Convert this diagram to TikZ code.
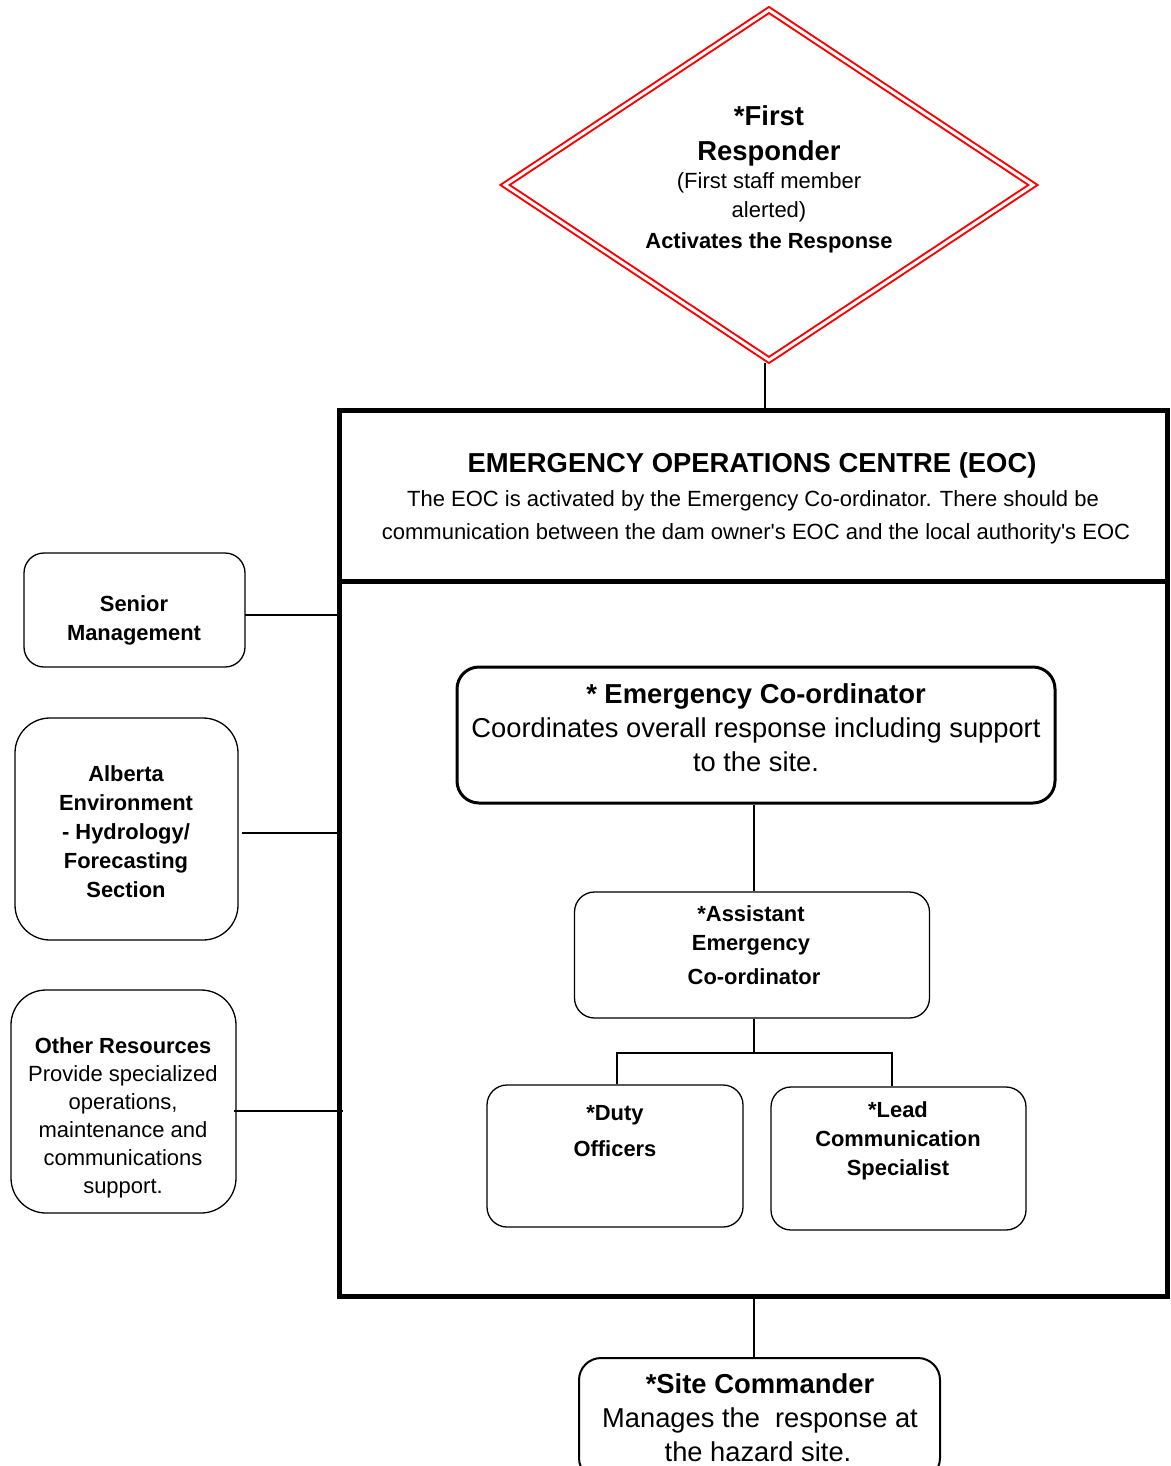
\documentclass[tikz,border=0pt]{standalone}
\usepackage{fontspec}
\setmainfont{Liberation Sans}
\begin{document}
\begin{tikzpicture}[x=1pt,y=-1pt,
  rbox/.style={draw, rounded corners=#1, line width=1.3pt, inner sep=0pt},
  rbox/.default=20pt,
  bt/.style={font=\bfseries\fontsize{21.9}{26}\selectfont, anchor=base, inner sep=0pt},
  rt/.style={font=\fontsize{22}{26}\selectfont, anchor=base, inner sep=0pt},
  BT/.style={font=\bfseries\fontsize{27.4}{32}\selectfont, anchor=base, inner sep=0pt},
  RT/.style={font=\fontsize{27.3}{32}\selectfont, anchor=base, inner sep=0pt},
  conn/.style={line width=1.3pt}]
\useasboundingbox (0,0) rectangle (1170,1466);
\fill[white] (0,0) rectangle (1170,1466);

% Diamond
\coordinate (dtop) at (769,10);
\coordinate (dright) at (1033,185);
\coordinate (dbotc) at (769,360);
\coordinate (dleft) at (505,185);
\draw[red, line width=2pt, double=white, double distance=3pt, line join=miter]
  (dtop) -- (dright) -- (dbotc) -- (dleft) -- cycle;
\node[BT] (d1) at (769,126) {*First};
\node[BT] (d2) at (769,161) {Responder};
\node[rt] (d3) at (769,189) {(First staff member};
\node[rt] (d4) at (769,218) {alerted)};
\node[bt] (d5) at (769,248) {Activates the Response};

% EOC box
\node[draw, line width=5pt, minimum width=828pt, minimum height=886pt, inner sep=0pt] (eoc) at (753,853) {};
\coordinate (divl) at (339,581);
\draw[line width=5pt] (divl) -- (divl -| eoc.east);
\node[BT] (e1) at (752,472) {EMERGENCY OPERATIONS CENTRE (EOC)};
\node[rt] (e2) at (753,506) {The EOC is activated by the Emergency Co-ordinator. There should be};
\node[rt] (e3) at (756,539) {communication between the dam owner\textquotesingle s EOC and the local authority\textquotesingle s EOC};

\coordinate (dbot) at (765,363);
\draw[conn] (dbot) -- (dbot |- eoc.north);

% Left boxes
\node[rbox, minimum width=221pt, minimum height=114pt] (sm) at (134.5,610) {};
\node[bt] (sm1) at (134,611) {Senior};
\node[bt] (sm2) at (134,640) {Management};

\node[rbox=35pt, minimum width=223pt, minimum height=222pt] (ab) at (126.5,829) {};
\node[bt] (ab1) at (126,781) {Alberta};
\node[bt] (ab2) at (126,810) {Environment};
\node[bt] (ab3) at (126,839) {- Hydrology/};
\node[bt] (ab4) at (126,868) {Forecasting};
\node[bt] (ab5) at (126,897) {Section};

\node[rbox=35pt, minimum width=225pt, minimum height=223pt] (ot) at (123.5,1101.5) {};
\node[bt] (ot1) at (123,1053) {Other Resources};
\node[rt] (ot2) at (123,1081) {Provide specialized};
\node[rt] (ot3) at (123,1109) {operations,};
\node[rt] (ot4) at (123,1137) {maintenance and};
\node[rt] (ot5) at (123,1165) {communications};
\node[rt] (ot6) at (123,1193) {support.};

\coordinate (smc) at (245,615);
\draw[conn] (smc) -- (smc -| eoc.west);
\coordinate (abc) at (242,833);
\draw[conn] (abc) -- (abc -| eoc.west);
\coordinate (otc) at (234,1111);
\draw[conn] (otc) -- ([xshift=6pt]otc -| eoc.west);

% Emergency Co-ordinator
\node[rbox=22pt, line width=3pt, minimum width=598pt, minimum height=136pt] (ec) at (756,735) {};
\node[BT] (ec1) at (756,703) {* Emergency Co-ordinator};
\node[RT] (ec2) at (756,737) {Coordinates overall response including support};
\node[RT] (ec3) at (756,771) {to the site.};

% Assistant
\node[rbox, minimum width=355pt, minimum height=126pt] (ae) at (752,955) {};
\node[bt] (ae1) at (751,921) {*Assistant};
\node[bt] (ae2) at (751,950) {Emergency};
\node[bt] (ae3) at (754,984) {Co-ordinator};
\draw[conn] (ec.south -| 754,0) -- (ae.north -| 754,0);

% Duty & Lead
\node[rbox, minimum width=256pt, minimum height=142pt] (du) at (615,1156) {};
\node[bt] (du1) at (615,1120) {*Duty};
\node[bt] (du2) at (615,1156) {Officers};
\node[rbox, minimum width=255pt, minimum height=143pt] (lc) at (898.5,1158.5) {};
\node[bt] (lc1) at (898,1117) {*Lead};
\node[bt] (lc2) at (898,1146) {Communication};
\node[bt] (lc3) at (898,1175) {Specialist};
\coordinate (jn) at (754,1053);
\draw[conn] (ae.south -| jn) -- (jn);
\draw[conn] ([xshift=2pt]du.north) |- (jn) -| ([xshift=-6.5pt]lc.north);

% Site Commander
\node[rbox=22pt, line width=2pt, minimum width=361pt, minimum height=122pt] (sc) at (759.5,1419) {};
\node[BT] (sc1) at (760,1393) {*Site Commander};
\node[RT] (sc2) at (760,1427) {Manages the\ \ response at};
\node[RT] (sc3) at (758,1461) {the hazard site.};
\draw[conn] ([xshift=-5.5pt]sc.north) -- ([xshift=-5.5pt]sc.north |- eoc.south);
\end{tikzpicture}
\end{document}
